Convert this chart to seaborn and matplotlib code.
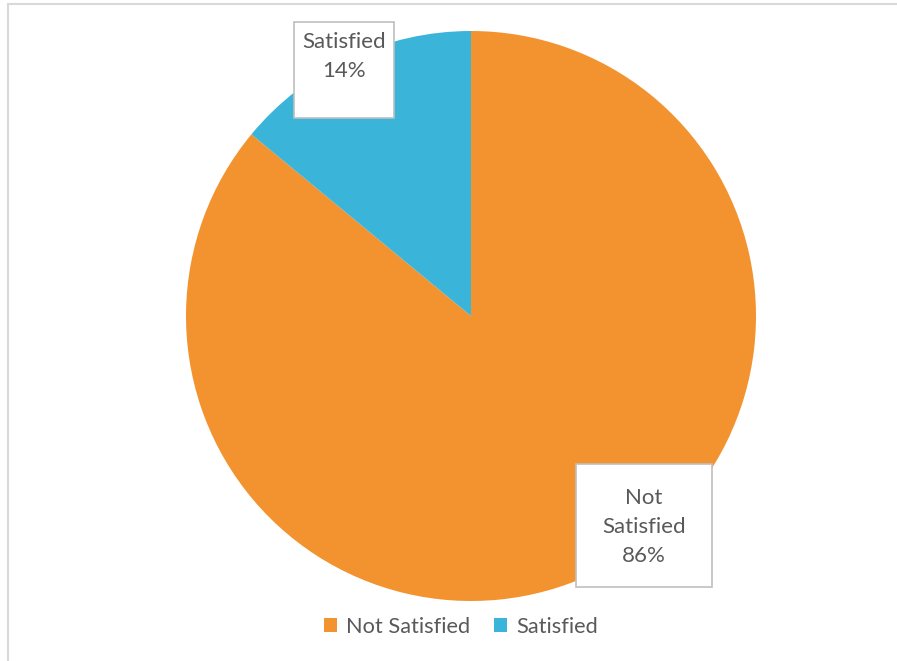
import matplotlib
matplotlib.use("Agg")
import matplotlib.pyplot as plt
import seaborn as sns
from matplotlib.patches import Rectangle
from matplotlib.lines import Line2D

categories = ["Not Satisfied", "Satisfied"]
percent = [86, 14]
colors = ["#F39330", "#3AB4D8"]

sns.set_theme(style="white")
plt.rcParams["font.family"] = ["Lato", "DejaVu Sans"]

W, H = 897, 661
fig = plt.figure(figsize=(W / 100, H / 100), dpi=100)
cx, cy, R = 471, 316, 285
lim = 1.1
side = 2 * lim * R
ax = fig.add_axes([(cx - lim * R) / W, (H - cy - lim * R) / H, side / W, side / H])

wedges, _ = ax.pie(percent, colors=colors, startangle=90, counterclock=False,
                   radius=1.0, wedgeprops=dict(edgecolor="none", linewidth=0))
ax.set_xlim(-lim, lim)
ax.set_ylim(-lim, lim)
ax.set_aspect("equal")
ax.axis("off")

def px(x, y):
    return (x - cx) / R, (cy - y) / R

# label boxes (pixel extents -> data) and text top
boxes = [(576, 464, 712, 587, 488), (294, 22, 394, 118, 32)]
for (cat, p, (x0, y0, x1, y1, ttop)) in zip(categories, percent, boxes):
    a0, b1 = px(x0, y0)
    a1, b0 = px(x1, y1)
    ax.add_patch(Rectangle((a0, b0), a1 - a0, b1 - b0, facecolor="white",
                           edgecolor="#BFBFBF", linewidth=1.2, zorder=5))
    label = cat.replace(" ", "\n") + f"\n{p}%"
    tx, ty = px((x0 + x1) / 2, ttop)
    ax.text(tx, ty, label, ha="center", va="top", fontsize=16,
            color="#595959", linespacing=1.55, zorder=6)

leg = fig.legend(wedges, categories, loc="center", ncol=2, frameon=False,
                 bbox_to_anchor=(461 / W, 1 - 627 / H), fontsize=15.7,
                 handlelength=0.6, handleheight=0.6, handletextpad=0.4,
                 columnspacing=1.1, labelcolor="#595959")

fig.add_artist(Line2D([8 / W, 1], [1 - 4 / H, 1 - 4 / H], color="#D9D9D9", lw=1.5))
fig.add_artist(Line2D([8 / W, 8 / W], [0, 1 - 4 / H], color="#D9D9D9", lw=1.5))

fig.savefig("out.png", dpi=100, facecolor="white")
